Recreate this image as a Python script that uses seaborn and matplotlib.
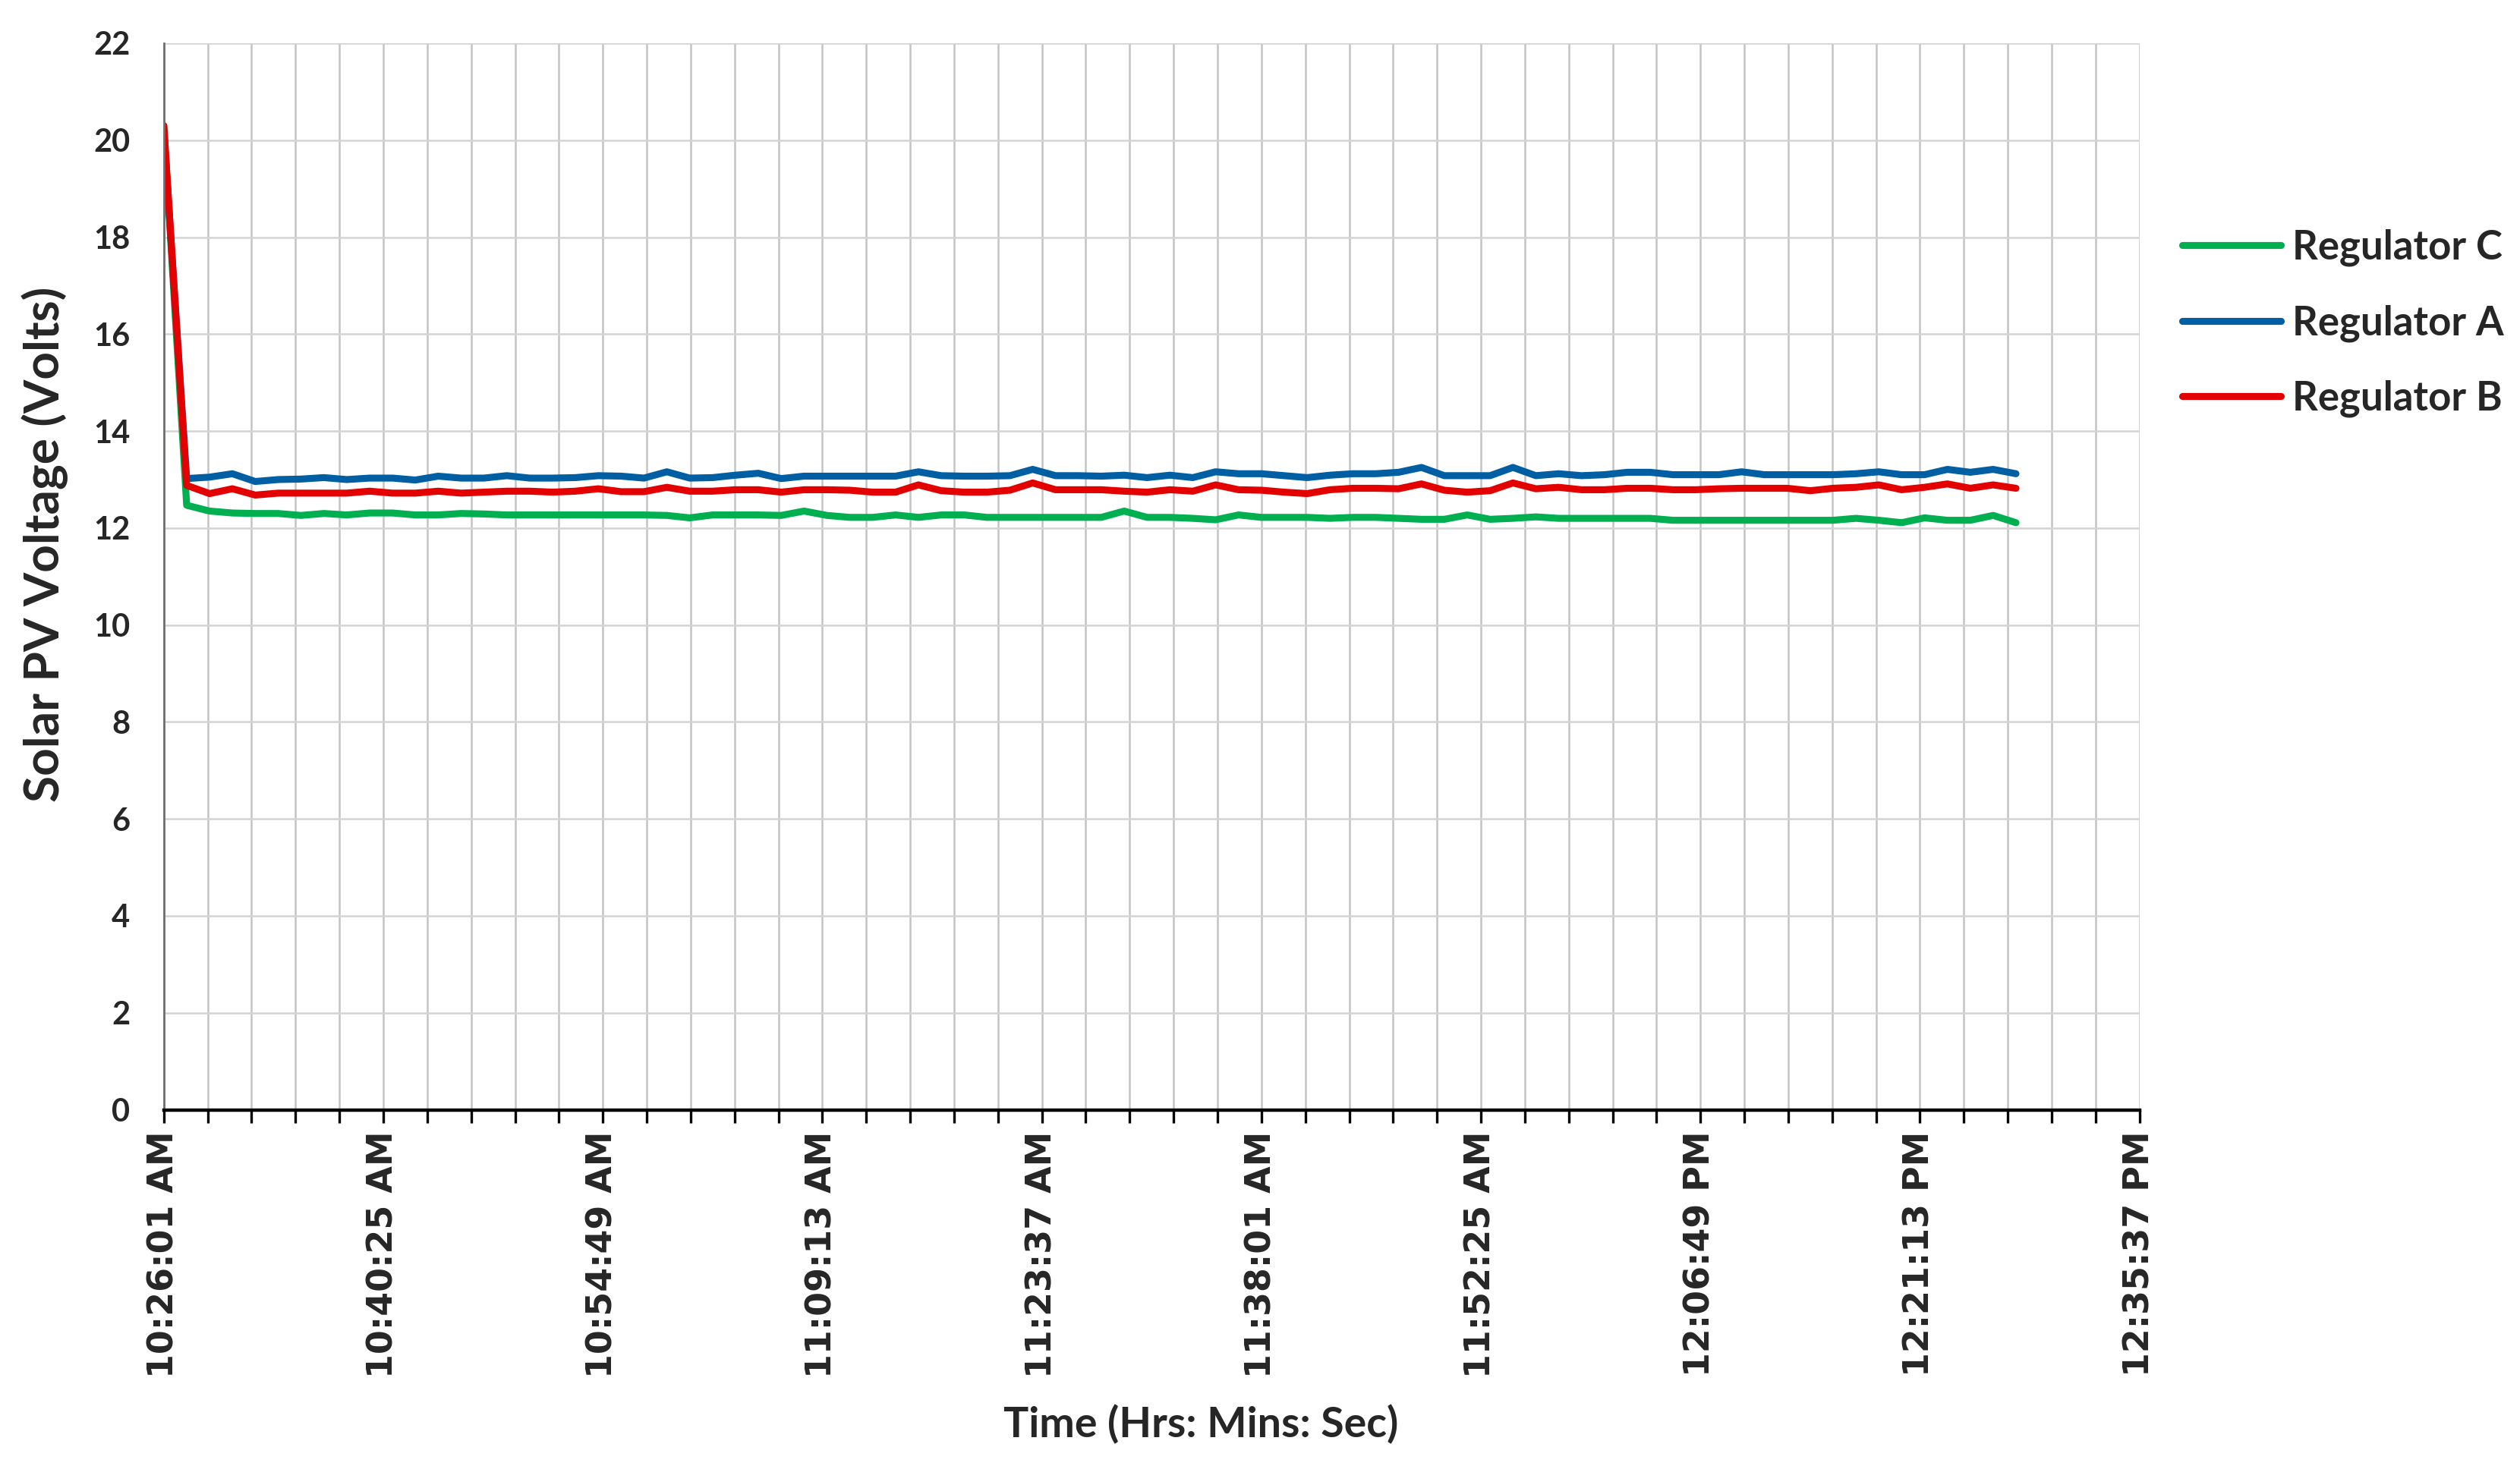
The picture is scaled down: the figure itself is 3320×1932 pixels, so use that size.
import datetime as dt

import numpy as np
import pandas as pd
import matplotlib
matplotlib.use('Agg')
import matplotlib.pyplot as plt
import seaborn as sns


# logging started at 10:26:01 AM, one reading every 90 s
start_time = dt.datetime(2024, 1, 1, 10, 26, 1)
step_sec = 90

# Solar PV voltage per regulator (Volts)
reg_a = [20.2, 13.02, 13.05, 13.12, 12.96, 13.00, 13.01, 13.04, 13.00, 13.03,
         13.03, 12.99, 13.07, 13.03, 13.03, 13.08, 13.03, 13.03, 13.04, 13.08,
         13.07, 13.03, 13.16, 13.03, 13.04, 13.09, 13.13, 13.02, 13.07, 13.07,
         13.07, 13.07, 13.07, 13.16, 13.08, 13.07, 13.07, 13.08, 13.21, 13.08,
         13.08, 13.07, 13.09, 13.04, 13.09, 13.04, 13.16, 13.12, 13.12, 13.08,
         13.04, 13.09, 13.12, 13.12, 13.15, 13.25, 13.08, 13.08, 13.08, 13.25,
         13.08, 13.12, 13.08, 13.10, 13.15, 13.15, 13.10, 13.10, 13.10, 13.16,
         13.10, 13.10, 13.10, 13.10, 13.12, 13.16, 13.10, 13.10, 13.21, 13.15,
         13.21, 13.12]
reg_b = [20.3, 12.88, 12.71, 12.81, 12.68, 12.72, 12.72, 12.72, 12.72, 12.76,
         12.72, 12.72, 12.76, 12.72, 12.74, 12.76, 12.76, 12.74, 12.76, 12.81,
         12.75, 12.75, 12.84, 12.76, 12.76, 12.79, 12.79, 12.74, 12.79, 12.79,
         12.78, 12.74, 12.74, 12.89, 12.77, 12.74, 12.74, 12.78, 12.93, 12.79,
         12.79, 12.79, 12.76, 12.74, 12.79, 12.76, 12.89, 12.79, 12.78, 12.74,
         12.71, 12.79, 12.82, 12.82, 12.81, 12.91, 12.78, 12.74, 12.77, 12.93,
         12.81, 12.84, 12.79, 12.79, 12.82, 12.82, 12.79, 12.79, 12.81, 12.82,
         12.82, 12.82, 12.77, 12.82, 12.84, 12.89, 12.79, 12.84, 12.91, 12.82,
         12.89, 12.82]
reg_c = [20.3, 12.47, 12.35, 12.31, 12.30, 12.30, 12.26, 12.30, 12.27, 12.31,
         12.31, 12.27, 12.27, 12.30, 12.29, 12.27, 12.27, 12.27, 12.27, 12.27,
         12.27, 12.27, 12.26, 12.21, 12.27, 12.27, 12.27, 12.26, 12.35, 12.26,
         12.22, 12.22, 12.27, 12.22, 12.27, 12.27, 12.22, 12.22, 12.22, 12.22,
         12.22, 12.22, 12.35, 12.22, 12.22, 12.20, 12.17, 12.27, 12.22, 12.22,
         12.22, 12.20, 12.22, 12.22, 12.20, 12.18, 12.18, 12.27, 12.18, 12.20,
         12.23, 12.20, 12.20, 12.20, 12.20, 12.20, 12.16, 12.16, 12.16, 12.16,
         12.16, 12.16, 12.16, 12.16, 12.20, 12.16, 12.11, 12.21, 12.16, 12.16,
         12.26, 12.11]

series_names = ['Regulator C', 'Regulator A', 'Regulator B']
series_colors = ['#00B050', '#005FA3', '#E30000']
y_ticks = np.arange(0, 23, 2)

# x axis: major every 14:24, minor every 2:52.8
major_step = 864
minor_step = 172.8
x_max = 9 * major_step


def build_frame():
    elapsed = np.arange(len(reg_a)) * step_sec
    frames = []
    for name, vals in zip(['Regulator A', 'Regulator B', 'Regulator C'], [reg_a, reg_b, reg_c]):
        frames.append(pd.DataFrame({'elapsed': elapsed, 'voltage': vals, 'series': name}))
    return pd.concat(frames, ignore_index=True)


def time_label(sec):
    return (start_time + dt.timedelta(seconds=float(sec))).strftime('%I:%M:%S %p')


df = build_frame()

sns.set_style('white')
plt.rcParams['font.family'] = ['Lato', 'DejaVu Sans']

fig, ax = plt.subplots(figsize=(16.6, 9.66), dpi=200)
fig.subplots_adjust(left=0.065, right=0.849, top=0.9705, bottom=0.243)

sns.lineplot(data=df, x='elapsed', y='voltage', hue='series', hue_order=series_names,
             palette=series_colors, linewidth=3.3, ax=ax)

ax.set_xlim(0, x_max)
ax.set_ylim(0, 22)

major_pos = np.arange(0, 10) * major_step
minor_pos = np.arange(0, 46) * minor_step
ax.set_xticks(major_pos, labels=[time_label(v) for v in major_pos], rotation=90,
              fontfamily='DejaVu Sans', fontweight='bold', fontsize=16.5)
ax.set_xticks(minor_pos, minor=True)
ax.set_yticks(y_ticks, labels=[str(v) for v in y_ticks],
              fontfamily='Lato', fontweight='bold', fontsize=15)

ax.tick_params(axis='x', which='both', direction='out', length=6, width=1.2,
               color='black', pad=4, bottom=True)
ax.tick_params(axis='y', length=0, pad=16)

# grid: horizontal at majors, vertical at every minor step
ax.grid(True, axis='x', which='both', color='#C4C4C4', linewidth=0.9)
ax.grid(True, axis='y', which='major', color='#D4D4D4', linewidth=0.9)
ax.set_axisbelow(True)

for side in ['top', 'right']:
    ax.spines[side].set_visible(False)
ax.spines['bottom'].set_color('black')
ax.spines['bottom'].set_linewidth(1.6)
ax.spines['left'].set_color('#6E6E6E')
ax.spines['left'].set_linewidth(1.0)

ax.set_xlabel('Time (Hrs: Mins: Sec)', fontsize=20, fontweight='bold')
ax.xaxis.label.set_va('center')
ax.xaxis.set_label_coords(0.525, -0.295)
ax.set_ylabel('Solar PV Voltage (Volts)', fontsize=23, fontweight='bold')
ax.yaxis.label.set_va('center')
ax.yaxis.set_label_coords(-0.060, 0.53)

handles, labels = ax.get_legend_handles_labels()
ax.legend_.remove()
leg = fig.legend(handles, labels, loc='center left', bbox_to_anchor=(0.866, 0.7796),
                 frameon=False, prop={'family': 'Lato', 'weight': 'bold', 'size': 19},
                 handlelength=2.47, handletextpad=0.28, labelspacing=0.95,
                 borderpad=0, borderaxespad=0)
for line in leg.legend_handles:
    line.set_linewidth(3.3)

fig.savefig('out.png', dpi=200)
